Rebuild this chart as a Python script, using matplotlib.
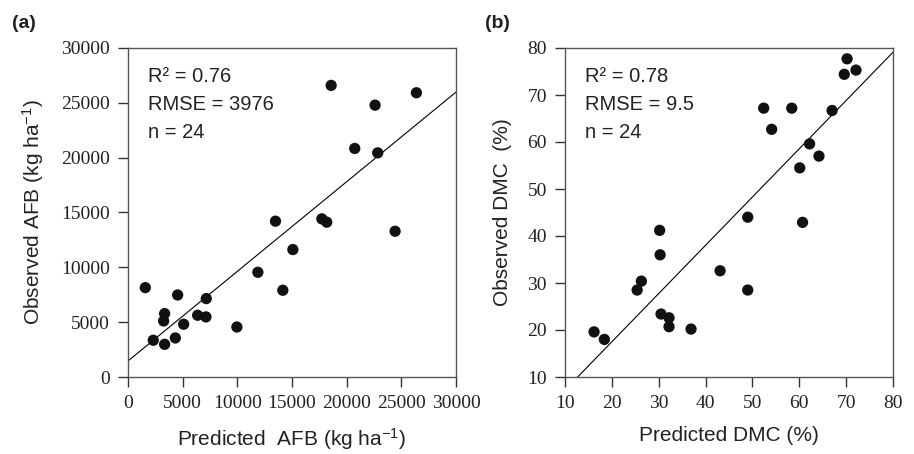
import matplotlib
matplotlib.use("Agg")
import matplotlib.pyplot as plt
import numpy as np

# ---- data ----
afb_pred = [1580, 2310, 3350, 3260, 3350, 4330, 4540, 5090, 6370, 7130, 7160, 9960,
            11880, 13490, 14160, 15080, 17730, 18180, 18580, 20740, 22600, 22840, 24430, 26380]
afb_obs = [8150, 3350, 2980, 5110, 5780, 3560, 7480, 4810, 5630, 5480, 7150, 4560,
           9550, 14210, 7910, 11620, 14420, 14120, 26590, 20840, 24790, 20440, 13290, 25920]
afb_line_x = [0, 30000]
afb_line_y = [1460, 25980]

dmc_pred = [16.2, 18.4, 25.4, 26.3, 30.2, 30.3, 30.5, 32.2, 32.2, 36.9, 43.1, 49.0,
            49.0, 52.4, 54.1, 58.4, 60.1, 60.7, 62.2, 64.2, 67.0, 69.6, 70.2, 72.1]
dmc_obs = [19.6, 18.0, 28.5, 30.4, 41.2, 36.0, 23.4, 22.6, 20.7, 20.2, 32.6, 44.0,
           28.5, 67.2, 62.7, 67.2, 54.5, 42.9, 59.6, 57.0, 66.7, 74.4, 77.7, 75.3]
dmc_line_x = [12.7, 80]
dmc_line_y = [10, 79.1]

afb_ticks = [0, 5000, 10000, 15000, 20000, 25000, 30000]
dmc_ticks = [10, 20, 30, 40, 50, 60, 70, 80]

stats_a = ["R\u00b2 = 0.76", "RMSE = 3976", "n = 24"]
stats_b = ["R\u00b2 = 0.78", "RMSE = 9.5", "n = 24"]

# ---- style ----
plt.rcParams['mathtext.fontset'] = 'custom'
plt.rcParams['mathtext.rm'] = 'Liberation Sans'
plt.rcParams['mathtext.it'] = 'Liberation Sans'
sans = 'Liberation Sans'
serif = 'Liberation Serif'

fig = plt.figure(figsize=(9.14, 4.54), dpi=100)
ax_a = fig.add_axes([128/914, 1-377/454, 328/914, 329/454])
ax_b = fig.add_axes([565/914, 1-377/454, 328/914, 329/454])

def style(ax, ticks):
    ax.set_xticks(ticks)
    ax.set_yticks(ticks)
    ax.set_xlim(ticks[0], ticks[-1])
    ax.set_ylim(ticks[0], ticks[-1])
    for s in ax.spines.values():
        s.set_color('#555555')
        s.set_linewidth(1.0)
    ax.tick_params(direction='out', length=7, width=1, color='#333333',
                   labelsize=14, labelcolor='#222222', pad=6,
                   top=False, right=False)
    for lab in ax.get_xticklabels() + ax.get_yticklabels():
        lab.set_fontfamily(serif)

for ax, xp, yo, lx, ly, ticks, stats in [
        (ax_a, afb_pred, afb_obs, afb_line_x, afb_line_y, afb_ticks, stats_a),
        (ax_b, dmc_pred, dmc_obs, dmc_line_x, dmc_line_y, dmc_ticks, stats_b)]:
    style(ax, ticks)
    ax.plot(lx, ly, color='black', lw=0.8, zorder=2)
    ax.scatter(xp, yo, s=66, color='#111111', edgecolors='none', zorder=3, clip_on=False)
    for i, t in enumerate(stats):
        ax.text(0.06, 0.912 - i * 0.085, t, transform=ax.transAxes, fontsize=14.5,
                family=sans, color='#222222', va='center', ha='left')

ax_a.set_xlabel("Predicted  AFB (kg ha$^{-1}$)", family=sans, fontsize=15, color='#222222', labelpad=10)
ax_a.set_ylabel("Observed AFB (kg ha$^{-1}$)", family=sans, fontsize=15, color='#222222', labelpad=11)
ax_b.set_xlabel("Predicted DMC (%)", family=sans, fontsize=15, color='#222222', labelpad=10)
ax_b.set_ylabel("Observed DMC  (%)", family=sans, fontsize=15, color='#222222', labelpad=11)

fig.text(12/914, 1-24/454, "(a)", family=sans, fontweight='bold', fontsize=14, va='center', ha='left', color='#222222')
fig.text(485/914, 1-24/454, "(b)", family=sans, fontweight='bold', fontsize=14, va='center', ha='left', color='#222222')

fig.savefig("out.png", dpi=100)
